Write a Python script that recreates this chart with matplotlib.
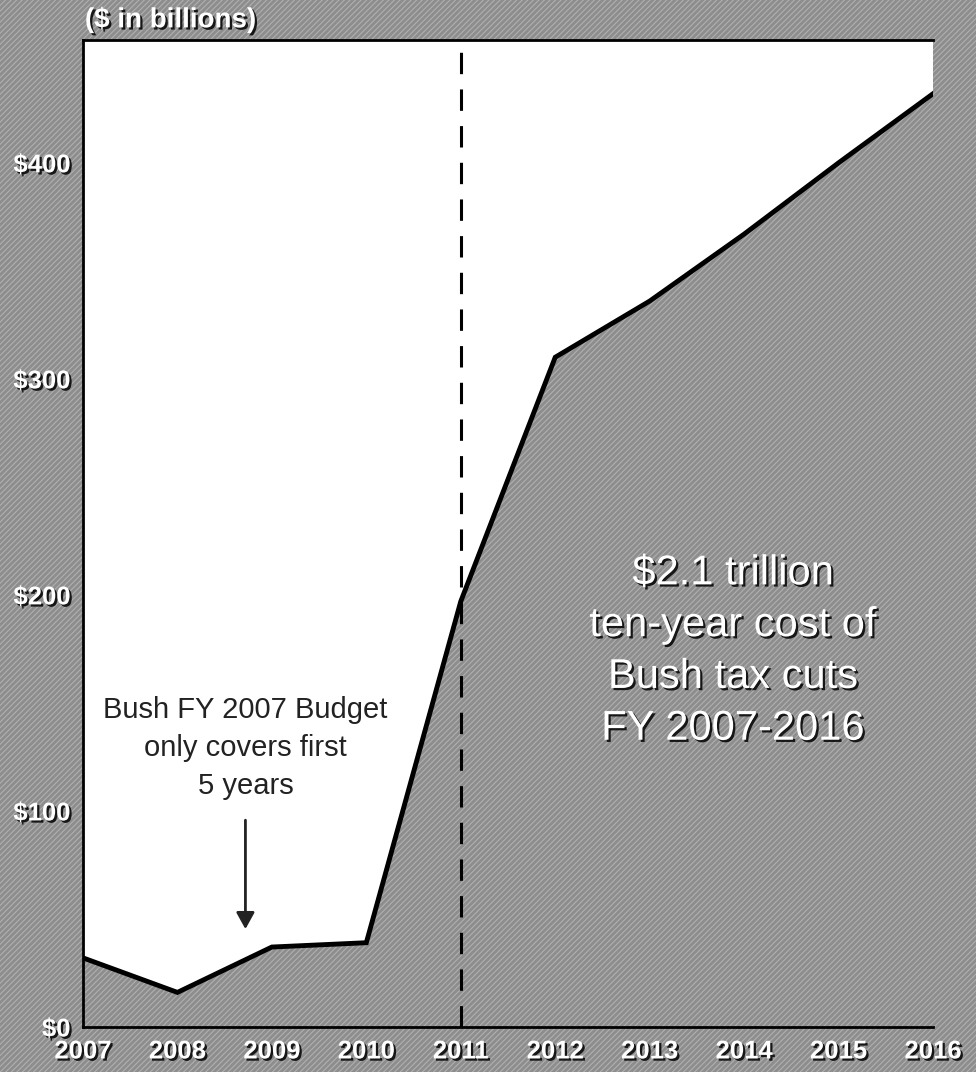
"""Bush tax cuts: ten-year cost chart"""

import matplotlib
matplotlib.use('Agg')
import matplotlib.pyplot as plt
import matplotlib.patheffects as pe
from matplotlib.patches import Rectangle

# данные ($ млрд)
years = [2007, 2008, 2009, 2010, 2011, 2012, 2013, 2014, 2015, 2016]
cost = [32, 16, 37, 39, 197, 310, 336, 367, 400, 432]
ytick_vals = [0, 100, 200, 300, 400]
ytick_labels = ['$0', '$100', '$200', '$300', '$400']

BG = '#8d8d8d'
HATCH = '#b0b0b0'

plt.rcParams['font.family'] = ['Liberation Sans', 'DejaVu Sans']
plt.rcParams['hatch.linewidth'] = 0.8

shadow = [pe.SimplePatchShadow(offset=(1.6, -1.6), shadow_rgbFace='black', alpha=0.85),
          pe.Normal()]

fig = plt.figure(figsize=(9.76, 10.72), dpi=100)
fig.patch.set_facecolor(BG)
fig.patches.append(Rectangle((0, 0), 1, 1, transform=fig.transFigure,
                             facecolor=BG, edgecolor=HATCH, hatch='//////',
                             linewidth=0, zorder=-10))

ax = fig.add_axes([0.085, 0.042, 0.871, 0.921])
ax.set_facecolor('white')

ax.fill_between(years, cost, 0, facecolor=BG, edgecolor=HATCH, hatch='//////',
                linewidth=0, zorder=1)
ax.plot(years, cost, color='black', linewidth=3.5, solid_joinstyle='miter', zorder=3)

# граница бюджета Буша
ax.axvline(2011, color='black', linestyle=(0, (7, 5)), linewidth=2.2, zorder=4)

ax.set_xlim(2007, 2016)
ax.set_ylim(0, 457)
ax.set_xticks(years)
ax.set_xticklabels([str(y) for y in years])
ax.set_yticks(ytick_vals)
ax.set_yticklabels(ytick_labels)
ax.tick_params(length=0, labelsize=18.5, labelcolor='white')
ax.tick_params(axis='x', pad=9)
ax.tick_params(axis='y', pad=9)
for lbl in ax.get_xticklabels() + ax.get_yticklabels():
    lbl.set_fontweight('bold')
    lbl.set_path_effects(shadow)

for side in ['left', 'bottom', 'top']:
    ax.spines[side].set_linewidth(2)
    ax.spines[side].set_color('black')
ax.spines['right'].set_visible(False)

fig.text(0.087, 0.981, '($ in billions)', color='white', fontsize=20,
         fontweight='bold', ha='left', va='center', path_effects=shadow)

# подписи
ax.text(2008.72, 129, 'Bush FY 2007 Budget\nonly covers first\n5 years',
        ha='center', va='center', fontsize=21, color='#222222',
        linespacing=1.45, zorder=5)
ax.annotate('', xy=(2008.72, 44), xytext=(2008.72, 97),
            arrowprops=dict(arrowstyle='-|>,head_length=1.0,head_width=0.55',
                            color='#222222', lw=2), zorder=5)

ax.text(2013.88, 174, '$2.1 trillion\nten-year cost of\nBush tax cuts\nFY 2007-2016',
        ha='center', va='center', fontsize=30, color='white',
        linespacing=1.38, path_effects=shadow, zorder=5)

fig.savefig('out.png', dpi=100, facecolor=BG)
